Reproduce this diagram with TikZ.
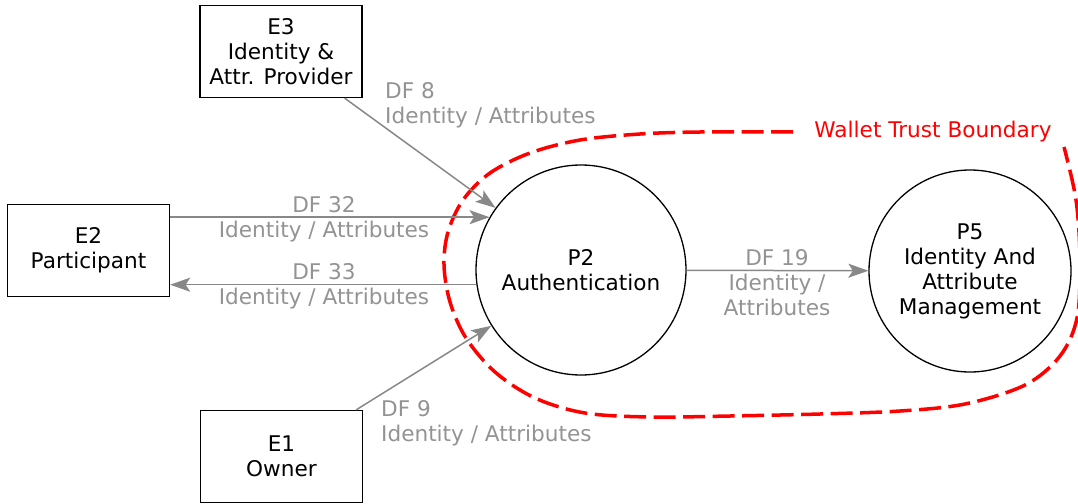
\documentclass[tikz,border=0pt]{standalone}
\usepackage{fontspec}
\setmainfont{DejaVu Sans}
\usetikzlibrary{arrows.meta}
\definecolor{flowgray}{HTML}{888888}
\definecolor{labelgray}{HTML}{939393}
\definecolor{bndred}{HTML}{FF0000}

\begin{document}
\begin{tikzpicture}[x=1pt,y=-1pt,
  every node/.style={font=\fontsize{21.6}{25}\selectfont},
  entity/.style={draw=black, line width=1.3pt, minimum width=162pt,
    minimum height=92pt, align=center, inner sep=0pt},
  process/.style={draw=black, line width=1.3pt, circle, align=center, inner sep=0pt},
  flow/.style={draw=flowgray, line width=1.5pt,
    -{Stealth[length=20pt,width=14pt,inset=4.5pt]}},
  flowlabel/.style={text=labelgray, inner sep=0pt},
  boundary/.style={draw=bndred, line width=3.5pt, dash pattern=on 22pt off 7.5pt}]

\useasboundingbox (0,0) rectangle (1078,503);

% external entities
\node[entity] (E3) at (281,51.5) {E3\\Identity \&\\Attr. Provider};
\node[entity] (E2) at (88.5,250.5) {E2\\Participant};
\node[entity] (E1) at (281.5,456.5) {E1\\Owner};

% processes
\node[process, minimum size=210pt] (P2) at (581,270) {P2\\Authentication};
\node[process, minimum size=202pt] (P5) at (970,271) {P5\\Identity And\\Attribute\\Management};

% trust boundary
\draw[boundary] plot[smooth, tension=0.55] coordinates {
  (793,132) (700,132) (640,134) (580,140) (530,153) (490,173) (463,200)
  (448,232) (444,265) (450,302) (466,338) (495,372) (535,398) (585,413)
  (650,417) (730,416) (820,414) (900,411) (965,404) (1025,385) (1060,356)
  (1077,318) (1080,260) (1076,200) (1064,147)};
\node[text=bndred, inner sep=0pt] (WTB) at (933,132) {Wallet Trust Boundary};

% data flows
\draw[flow] ([xshift=-18pt]E3.south east) -- (P2);
\draw[flow] (E2.east |- P2.150) -- (P2.150);
\draw[flow] (P2.188) -- (E2.east |- P2.188);
\draw[flow] ([xshift=-7pt]E1.north east) -- (P2);
\draw[flow] (P2) -- (P5);

% data flow labels
\node[flowlabel, align=left, anchor=west] (L8) at (385,105.5) {DF 8\\Identity / Attributes};
\node[flowlabel, align=center] (L32) at (324,219.5) {DF 32\\Identity / Attributes};
\node[flowlabel, align=center] (L33) at (324,286.5) {DF 33\\Identity / Attributes};
\node[flowlabel, align=center] (L19) at (777,283) {DF 19\\Identity /\\Attributes};
\node[flowlabel, align=left, anchor=west] (L9) at (381,423) {DF 9\\Identity / Attributes};
\end{tikzpicture}
\end{document}
